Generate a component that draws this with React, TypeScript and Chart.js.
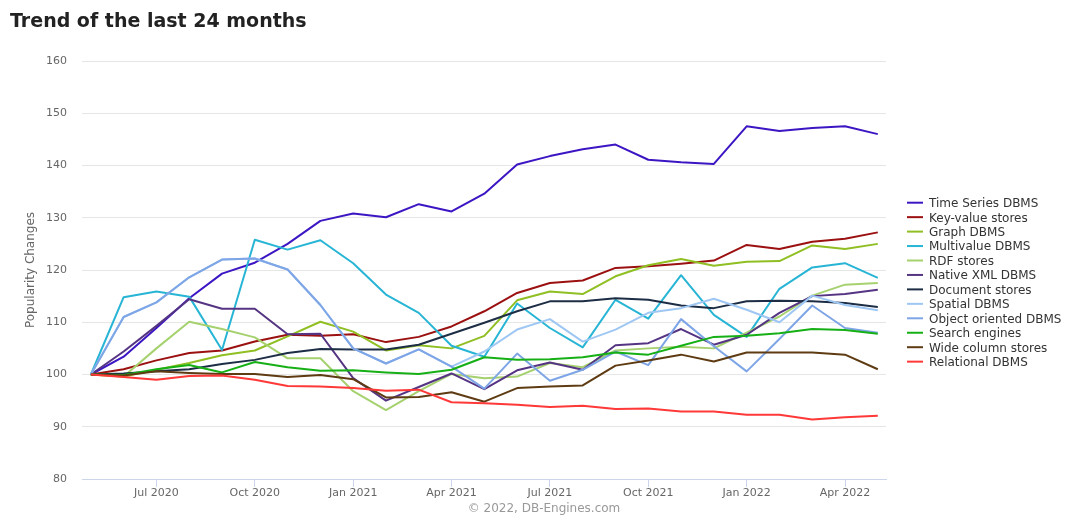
import React, { useEffect, useRef } from 'react';
import { Chart, registerables } from 'chart.js';

Chart.register(...registerables);

const months = [
  'May 2020', 'Jun 2020', 'Jul 2020', 'Aug 2020', 'Sep 2020', 'Oct 2020', 'Nov 2020', 'Dec 2020',
  'Jan 2021', 'Feb 2021', 'Mar 2021', 'Apr 2021', 'May 2021', 'Jun 2021', 'Jul 2021', 'Aug 2021',
  'Sep 2021', 'Oct 2021', 'Nov 2021', 'Dec 2021', 'Jan 2022', 'Feb 2022', 'Mar 2022', 'Apr 2022', 'May 2022',
];
const tickLabels = ['Jul 2020', 'Oct 2020', 'Jan 2021', 'Apr 2021', 'Jul 2021', 'Oct 2021', 'Jan 2022', 'Apr 2022'];
const yTicks = [80, 90, 100, 110, 120, 130, 140, 150, 160];

const seriesNames = [
  'Time Series DBMS', 'Key-value stores', 'Graph DBMS', 'Multivalue DBMS', 'RDF stores', 'Native XML DBMS',
  'Document stores', 'Spatial DBMS', 'Object oriented DBMS', 'Search engines', 'Wide column stores', 'Relational DBMS',
];
const seriesColors = [
  '#3d16c4', '#9b1010', '#8fbf22', '#28b5d5', '#a6d16f', '#553583',
  '#1c2d45', '#9fc7f3', '#7ea5e6', '#16b016', '#5e3b12', '#ff3838',
];

const timeSeries = [100, 103.4, 108.9, 114.6, 119.3, 121.4, 125.0, 129.4, 130.8, 130.1, 132.6, 131.2, 134.6, 140.2, 141.8, 143.1, 144.0, 141.1, 140.6, 140.3, 147.5, 146.6, 147.2, 147.5, 146.0];
const keyValue = [100, 101.0, 102.7, 104.1, 104.6, 106.3, 107.6, 107.4, 107.7, 106.2, 107.2, 109.2, 112.1, 115.6, 117.5, 118.0, 120.4, 120.7, 121.2, 121.8, 124.8, 124.0, 125.4, 126.0, 127.2];
const graph = [100, 99.6, 100.9, 102.2, 103.7, 104.6, 107.3, 110.1, 108.2, 104.6, 105.6, 105.0, 107.4, 114.2, 115.9, 115.4, 118.8, 120.9, 122.1, 120.8, 121.6, 121.7, 124.7, 124.0, 125.0];
const multivalue = [100, 114.8, 115.9, 114.9, 104.7, 125.8, 123.9, 125.7, 121.3, 115.3, 111.8, 105.5, 103.4, 113.6, 108.9, 105.2, 114.3, 110.7, 119.0, 111.4, 107.2, 116.4, 120.5, 121.3, 118.5];
const rdf = [100, 99.6, 105.0, 110.1, 108.7, 107.1, 103.1, 103.1, 96.8, 93.2, 96.8, 100.1, 99.3, 99.6, 102.2, 101.4, 104.6, 105.0, 105.3, 105.0, 108.0, 111.1, 115.1, 117.2, 117.5];
const nativeXml = [100, 104.4, 109.3, 114.4, 112.6, 112.6, 107.7, 107.8, 99.3, 95.0, 97.6, 100.2, 97.2, 100.8, 102.3, 100.9, 105.6, 106.0, 108.7, 105.7, 107.6, 111.8, 115.0, 115.4, 116.2];
const documentStores = [100, 100.2, 100.6, 101.0, 102.0, 102.8, 104.1, 104.9, 104.8, 104.8, 105.7, 107.8, 109.9, 112.1, 114.0, 114.0, 114.6, 114.3, 113.2, 112.7, 114.0, 114.1, 114.0, 113.7, 112.9];
const spatial = [100, 111.0, 113.8, 118.6, 122.0, 122.2, 120.1, 113.3, 105.0, 102.1, 104.8, 101.5, 104.4, 108.6, 110.6, 106.3, 108.6, 111.8, 112.7, 114.5, 112.4, 110.0, 115.1, 113.3, 112.3];
const objectOriented = [100, 111.0, 113.8, 118.6, 122.0, 122.2, 120.1, 113.3, 105.0, 102.1, 104.8, 101.5, 97.3, 104.0, 98.8, 100.9, 104.4, 101.8, 110.6, 105.4, 100.6, 106.8, 113.2, 108.9, 108.0];
const searchEngines = [100, 99.9, 101.0, 101.8, 100.4, 102.4, 101.4, 100.7, 100.8, 100.4, 100.1, 100.9, 103.3, 102.8, 102.9, 103.3, 104.2, 103.8, 105.5, 107.2, 107.4, 107.9, 108.7, 108.5, 107.8];
const wideColumn = [100, 99.8, 100.6, 100.3, 100.1, 100.1, 99.5, 99.9, 99.1, 95.6, 95.7, 96.6, 94.8, 97.4, 97.7, 97.9, 101.7, 102.7, 103.8, 102.5, 104.2, 104.2, 104.2, 103.8, 101.0];
const relational = [100, 99.5, 99.0, 99.7, 99.8, 99.0, 97.8, 97.7, 97.4, 96.9, 97.1, 94.7, 94.5, 94.2, 93.8, 94.0, 93.4, 93.5, 92.9, 92.9, 92.3, 92.3, 91.4, 91.8, 92.1];

const seriesValues = [
  timeSeries, keyValue, graph, multivalue, rdf, nativeXml,
  documentStores, spatial, objectOriented, searchEngines, wideColumn, relational,
];

const titleText = 'Trend of the last 24 months';
const creditText = '\u00a9 2022, DB-Engines.com';
const yTitle = 'Popularity Changes';
const FONT = '"DejaVu Sans", Verdana, sans-serif';

const decorPlugin = {
  id: 'decor',
  afterDraw(chart: any) {
    const ctx = chart.ctx;
    ctx.save();
    ctx.font = `bold 19px ${FONT}`;
    ctx.fillStyle = '#222222';
    ctx.textAlign = 'left';
    ctx.textBaseline = 'alphabetic';
    ctx.fillText(titleText, 10, 26.5);
    ctx.font = `12px ${FONT}`;
    ctx.fillStyle = '#999999';
    ctx.textAlign = 'center';
    ctx.fillText(creditText, 544, 512);
    ctx.font = `12px ${FONT}`;
    ctx.textAlign = 'left';
    chart.data.datasets.forEach((ds: any, i: number) => {
      const y = 202.7 + i * 14.45;
      ctx.strokeStyle = ds.borderColor;
      ctx.lineWidth = 2;
      ctx.beginPath();
      ctx.moveTo(907, y);
      ctx.lineTo(923, y);
      ctx.stroke();
      ctx.fillStyle = '#333333';
      ctx.fillText(ds.label, 929, y + 4.4);
    });
    ctx.restore();
  },
};

export default function App() {
  const canvasRef = useRef<HTMLCanvasElement | null>(null);

  useEffect(() => {
    document.body.style.margin = '0';
    const canvas = canvasRef.current;
    if (!canvas) return;
    const chart = new Chart(canvas, {
      type: 'line',
      data: {
        datasets: seriesNames.map((name, i) => ({
          label: name,
          data: seriesValues[i].map((v, j) => ({ x: j, y: v })),
          borderColor: seriesColors[i],
          backgroundColor: seriesColors[i],
          borderWidth: 2,
          pointRadius: 0,
          pointHoverRadius: 0,
          tension: 0,
          fill: false,
          borderJoinStyle: 'round',
          order: seriesNames.length - i,
        })),
      },
      options: {
        animation: false,
        responsive: false,
        maintainAspectRatio: false,
        layout: { padding: { left: 20, top: 61, right: 194, bottom: 19 } },
        plugins: {
          legend: { display: false },
          tooltip: { enabled: false },
          title: { display: false },
        },
        scales: {
          x: {
            type: 'linear',
            min: -0.27,
            max: 24.25,
            afterBuildTicks: (scale: any) => {
              scale.ticks = tickLabels.map((l) => ({ value: months.indexOf(l) }));
            },
            afterFit: (scale: any) => {
              scale.height = 30;
            },
            ticks: {
              autoSkip: false,
              maxRotation: 0,
              padding: 0,
              color: '#666666',
              font: { family: FONT, size: 11 },
              callback: (v: any) => months[Number(v)] ?? '',
            },
            grid: { drawOnChartArea: false, drawTicks: true, tickLength: 8, color: '#ccd6eb' },
            border: { display: true, color: '#ccd6eb', width: 1 },
          },
          y: {
            min: 80,
            max: 160,
            afterBuildTicks: (scale: any) => {
              scale.ticks = yTicks.map((v) => ({ value: v }));
            },
            afterFit: (scale: any) => {
              scale.width = 62;
            },
            ticks: {
              padding: 15,
              color: '#666666',
              font: { family: FONT, size: 11 },
            },
            grid: { color: '#e6e6e6', drawTicks: false, lineWidth: 1 },
            border: { display: false },
            title: {
              display: true,
              text: yTitle,
              color: '#666666',
              font: { family: FONT, size: 12 },
              padding: { top: 4, bottom: 4 },
            },
          },
        },
      },
      plugins: [decorPlugin],
    } as any);
    return () => chart.destroy();
  }, []);

  return (
    <div style={{ position: 'absolute', left: 0, top: 0, width: 1080, height: 528, background: '#ffffff' }}>
      <canvas ref={canvasRef} width={1080} height={528} style={{ width: 1080, height: 528, display: 'block' }} />
    </div>
  );
}
